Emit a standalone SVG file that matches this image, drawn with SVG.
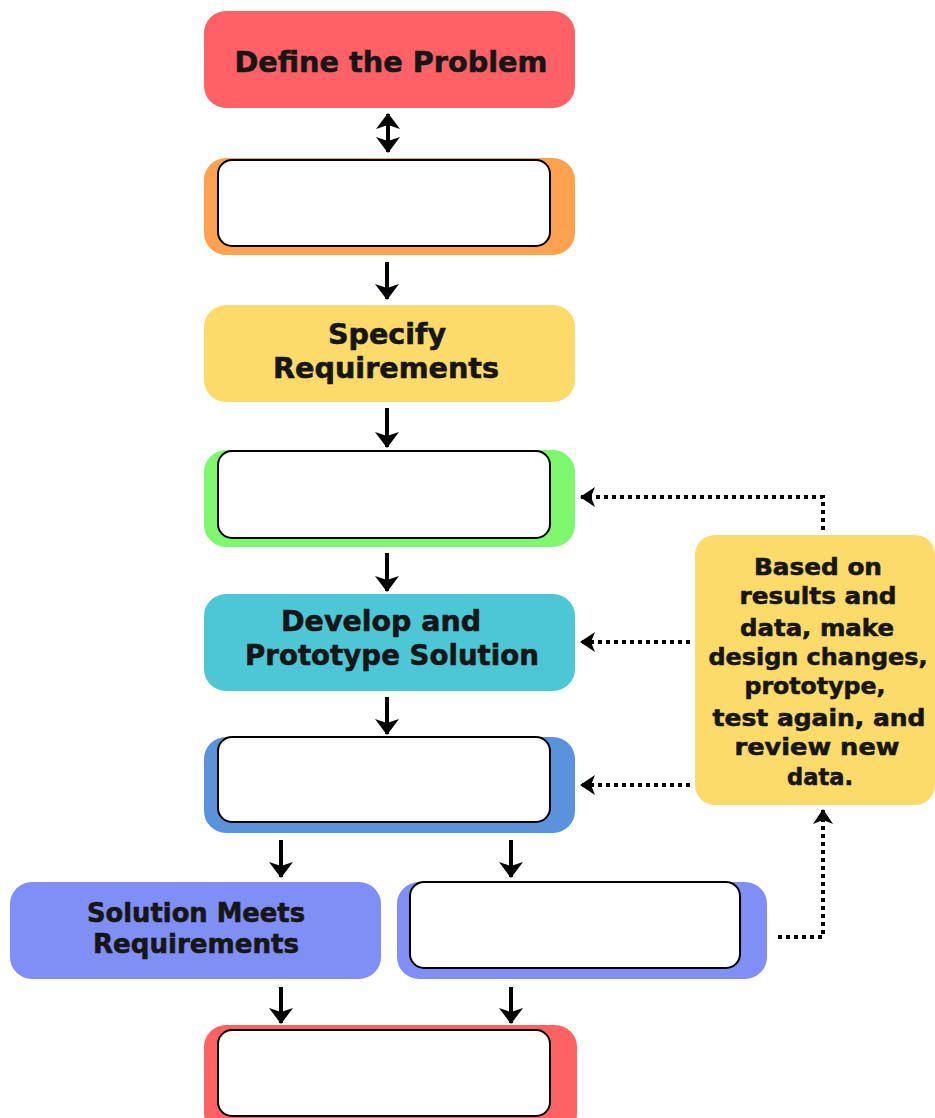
<svg xmlns="http://www.w3.org/2000/svg" width="935" height="1118" viewBox="0 0 935 1118">
<defs>
<style>
.t{font-family:"DejaVu Sans","Verdana",sans-serif;font-weight:bold;fill:#161616;stroke:#161616;stroke-width:0.6;text-anchor:middle}
.inner{fill:#fff;stroke:#000;stroke-width:2}
.ln{stroke:#000;stroke-width:4;fill:none}
.dot{stroke:#000;stroke-width:4;fill:none;stroke-dasharray:4 4}
</style>
<marker id="ah" viewBox="0 0 16 24" refX="15" refY="12" markerWidth="16" markerHeight="24" orient="auto" markerUnits="userSpaceOnUse">
<path d="M0,0 L16,12 L0,24 L4,12 z" fill="#000"/>
</marker>
<marker id="ahs" viewBox="0 0 16 24" refX="15" refY="12" markerWidth="16" markerHeight="24" orient="auto-start-reverse" markerUnits="userSpaceOnUse">
<path d="M0,0 L16,12 L0,24 L4,12 z" fill="#000"/>
</marker>
<marker id="ahd" viewBox="0 0 15 20" refX="14" refY="10" markerWidth="15" markerHeight="20" orient="auto" markerUnits="userSpaceOnUse">
<path d="M0,0 L15,10 L0,20 L4,10 z" fill="#000"/>
</marker>
</defs>
<rect width="935" height="1118" fill="#fff"/>

<g id="n-define">
<rect x="204" y="11" width="371" height="97" rx="22" fill="#FF6166"/>
<text class="t" x="391" y="72" font-size="29" textLength="313" lengthAdjust="spacingAndGlyphs">Define the Problem</text>
</g>

<g id="n-orange">
<rect x="204" y="158" width="371" height="97" rx="22" fill="#FFA24F"/>
<rect class="inner" x="218" y="160" width="332" height="86" rx="14"/>
</g>

<g id="n-specify">
<rect x="204" y="305" width="371" height="97" rx="22" fill="#FDDB6B"/>
<text class="t" x="387" y="344" font-size="28" textLength="118" lengthAdjust="spacingAndGlyphs">Specify</text>
<text class="t" x="386" y="378" font-size="28" textLength="226" lengthAdjust="spacingAndGlyphs">Requirements</text>
</g>

<g id="n-green">
<rect x="204" y="450" width="371" height="97" rx="22" fill="#7DF86F"/>
<rect class="inner" x="218" y="451" width="332" height="87" rx="14"/>
</g>

<g id="n-develop">
<rect x="204" y="594" width="371" height="97" rx="22" fill="#4DC7D6"/>
<text class="t" x="381" y="631" font-size="28" textLength="200" lengthAdjust="spacingAndGlyphs">Develop and</text>
<text class="t" x="392" y="665" font-size="28" textLength="294" lengthAdjust="spacingAndGlyphs">Prototype Solution</text>
</g>

<g id="n-blue">
<rect x="204" y="737" width="371" height="96" rx="22" fill="#5A93DC"/>
<rect class="inner" x="218" y="737" width="332" height="85" rx="14"/>
</g>

<g id="n-meets">
<rect x="10" y="882" width="371" height="97" rx="22" fill="#7F8FF5"/>
<text class="t" x="196" y="922" font-size="26" textLength="218" lengthAdjust="spacingAndGlyphs">Solution Meets</text>
<text class="t" x="196" y="953" font-size="26" textLength="206" lengthAdjust="spacingAndGlyphs">Requirements</text>
</g>

<g id="n-fails">
<rect x="397" y="882" width="370" height="97" rx="22" fill="#7F8FF5"/>
<rect class="inner" x="410" y="882" width="330" height="86" rx="14"/>
</g>

<g id="n-final">
<rect x="204" y="1025" width="373" height="110" rx="22" fill="#FF6262"/>
<rect class="inner" x="218" y="1030" width="332" height="86" rx="14"/>
</g>

<g id="n-redesign">
<rect x="695" y="535" width="240" height="270" rx="20" fill="#FDDB6B"/>
<text class="t" x="818" y="575" font-size="23" textLength="128" lengthAdjust="spacingAndGlyphs">Based on</text>
<text class="t" x="818" y="604" font-size="23" textLength="157" lengthAdjust="spacingAndGlyphs">results and</text>
<text class="t" x="817" y="636" font-size="23" textLength="154" lengthAdjust="spacingAndGlyphs">data, make</text>
<text class="t" x="818" y="665" font-size="23" textLength="219" lengthAdjust="spacingAndGlyphs">design changes,</text>
<text class="t" x="815" y="694" font-size="23" textLength="141" lengthAdjust="spacingAndGlyphs">prototype,</text>
<text class="t" x="819" y="726" font-size="23" textLength="213" lengthAdjust="spacingAndGlyphs">test again, and</text>
<text class="t" x="817" y="755" font-size="23" textLength="165" lengthAdjust="spacingAndGlyphs">review new</text>
<text class="t" x="820" y="785" font-size="23" textLength="66" lengthAdjust="spacingAndGlyphs">data.</text>
</g>

<g id="connectors">
<line class="ln" x1="388" y1="114" x2="388" y2="152" marker-start="url(#ahs)" marker-end="url(#ah)"/>
<line class="ln" x1="387" y1="262" x2="387" y2="299" marker-end="url(#ah)"/>
<line class="ln" x1="387" y1="408" x2="387" y2="447" marker-end="url(#ah)"/>
<line class="ln" x1="387" y1="553" x2="387" y2="591" marker-end="url(#ah)"/>
<line class="ln" x1="387" y1="697" x2="387" y2="734" marker-end="url(#ah)"/>
<line class="ln" x1="281" y1="840" x2="281" y2="877" marker-end="url(#ah)"/>
<line class="ln" x1="511" y1="840" x2="511" y2="877" marker-end="url(#ah)"/>
<line class="ln" x1="281" y1="987" x2="281" y2="1023" marker-end="url(#ah)"/>
<line class="ln" x1="511" y1="987" x2="511" y2="1023" marker-end="url(#ah)"/>
<polyline class="dot" points="823,530 823,497 581,497" marker-end="url(#ahd)"/>
<line class="dot" x1="690" y1="642" x2="581" y2="642" marker-end="url(#ahd)"/>
<line class="dot" x1="690" y1="785" x2="581" y2="785" marker-end="url(#ahd)"/>
<polyline class="dot" points="778,937 823,937 823,810" marker-end="url(#ahd)"/>
</g>
</svg>
